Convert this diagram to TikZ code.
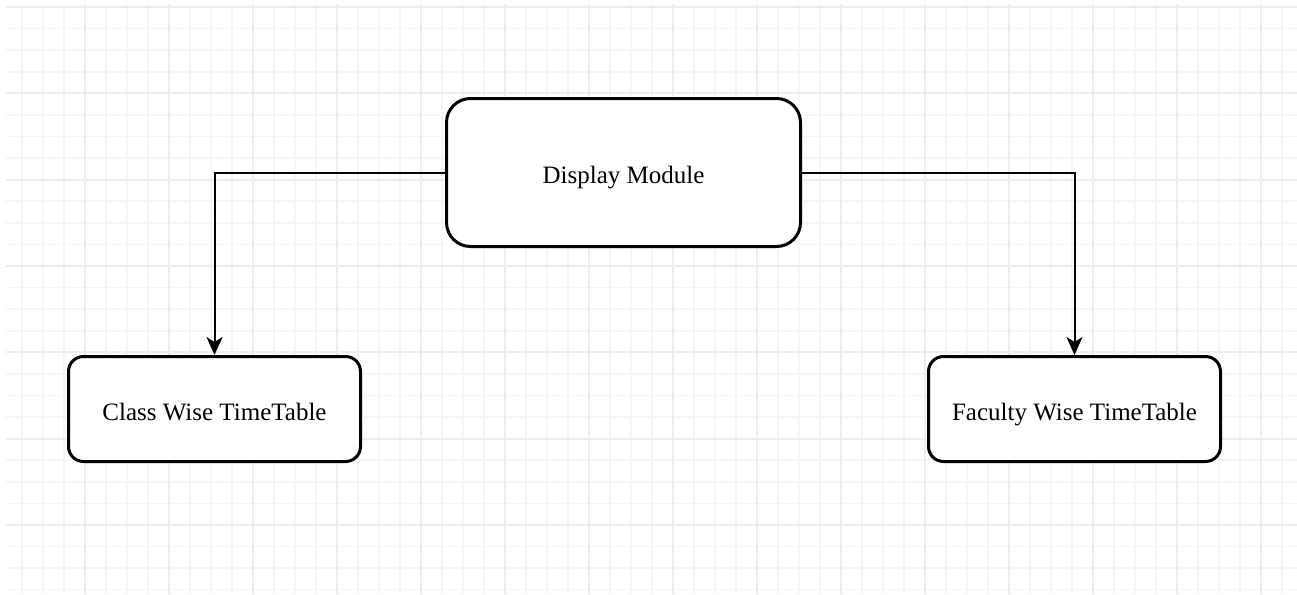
\documentclass[tikz,border=0pt]{standalone}
\usepackage{fontspec}
\setmainfont{Liberation Serif}
\usetikzlibrary{arrows.meta}
\begin{document}
\begin{tikzpicture}[x=1pt,y=-1pt,
  minorgrid/.style={line width=1.6pt, draw=black!4},
  majorgrid/.style={line width=1.8pt, draw=black!7},
  box/.style={draw=black, line width=3pt, fill=white, rounded corners=#1, inner sep=0pt,
    font=\fontsize{25}{30}\selectfont, align=center, text height=25pt, text depth=3pt},
  conn/.style={draw=black, line width=2pt, -{Stealth[length=18pt,width=16pt,inset=5pt]}}]
\useasboundingbox (0,0) rectangle (1297,594);
\fill[white] (0,0) rectangle (1297,594);
\begin{scope}
  \clip (6,5) rectangle (1297,594);
  \foreach \x in {22,43,...,1297} {\draw[minorgrid] (\x,0) -- (\x,594);}
  \foreach \y in {7,28.58,...,594} {\draw[minorgrid] (0,\y) -- (1297,\y);}
  \foreach \x in {85,169,...,1297} {\draw[majorgrid] (\x,0) -- (\x,594);}
  \foreach \y in {7,93.32,...,594} {\draw[majorgrid] (0,\y) -- (1297,\y);}
\end{scope}
\node[box=24pt, minimum width=354pt, minimum height=148pt] (disp) at (623.5,172.5) {Display Module};
\node[box=15pt, minimum width=292pt, minimum height=105pt] (cls) at (214.5,409) {Class Wise TimeTable};
\node[box=15pt, minimum width=292pt, minimum height=105pt] (fac) at (1074.5,409) {Faculty Wise TimeTable};
\draw[conn] (disp.west) -| (cls.north);
\draw[conn] (disp.east) -| (fac.north);
\end{tikzpicture}
\end{document}
